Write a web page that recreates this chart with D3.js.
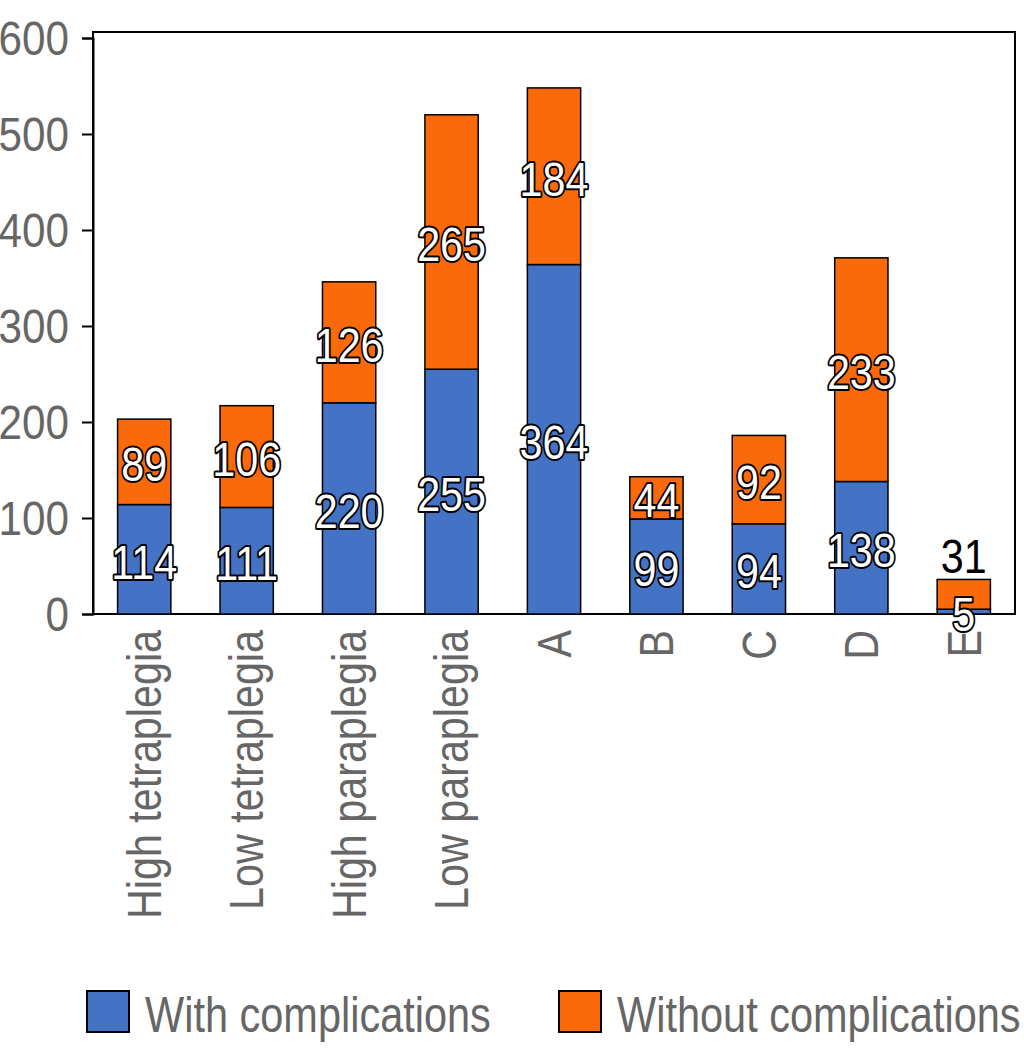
<!DOCTYPE html>
<html>
<head>
<meta charset="utf-8">
<script src="https://cdn.jsdelivr.net/npm/d3@7"></script>
<style>
  body { margin: 0; background: #fff; }
  svg text { font-family: "Liberation Sans", Arial, sans-serif; }
</style>
</head>
<body>
<div id="chart"></div>
<script>
// data
let categories = ['High tetraplegia', 'Low tetraplegia', 'High paraplegia', 'Low paraplegia', 'A', 'B', 'C', 'D', 'E']
let withComp = [114, 111, 220, 255, 364, 99, 94, 138, 5]
let withoutComp = [89, 106, 126, 265, 184, 44, 92, 233, 31]
let seriesNames = ['With complications', 'Without complications']
let yTicks = [0, 100, 200, 300, 400, 500, 600]

let colors = ['#4472c4', '#fa6a0b']

let width = 1024, height = 1049
let margin = { left: 93, right: 9, top: 32, bottom: 435 }
// the original uses a narrow helvetica, squeeze Liberation Sans to match
let narrowTick = 0.88, narrowVal = 0.86, narrowCat = 0.86, narrowLeg = 0.83

let svg = d3.select('#chart')
  .append('svg')
  .attr('width', width)
  .attr('height', height)

let x = d3.scaleBand()
  .domain(categories)
  .range([margin.left, width - margin.right])
  .paddingInner(0.48)
  .paddingOuter(0.24)

let y = d3.scaleLinear()
  .domain([0, 600])
  .range([height - margin.bottom, margin.top + 6])

let rows = categories.map((c, i) => ({ cat: c, w: withComp[i], wo: withoutComp[i] }))
let stacked = d3.stack().keys(['w', 'wo'])(rows)

// frame
svg.append('rect')
  .attr('x', margin.left)
  .attr('y', margin.top)
  .attr('width', width - margin.right - margin.left)
  .attr('height', y(0) - margin.top)
  .attr('fill', 'none')
  .attr('stroke', '#000')
  .attr('stroke-width', 2)

// y axis (lines from d3, labels drawn below so they can be squeezed)
let yAxis = svg.append('g')
  .attr('transform', `translate(${margin.left},0)`)
  .call(d3.axisLeft(y).tickValues(yTicks).tickSize(11).tickFormat(''))
yAxis.select('.domain').attr('stroke', '#000').attr('stroke-width', 2)
yAxis.selectAll('.tick line').attr('stroke', '#000').attr('stroke-width', 2)

svg.append('g')
  .selectAll('text')
  .data(yTicks)
  .join('text')
  .attr('transform', d => `translate(${margin.left - 24},${y(d)}) scale(${narrowTick},1)`)
  .attr('dy', '0.36em')
  .attr('text-anchor', 'end')
  .attr('fill', '#666')
  .style('font-size', '48px')
  .text(d => d)

// bars
let groups = svg.append('g')
  .selectAll('g')
  .data(stacked)
  .join('g')
  .attr('fill', (d, i) => colors[i])

groups.selectAll('rect')
  .data(d => d)
  .join('rect')
  .attr('x', d => x(d.data.cat))
  .attr('width', x.bandwidth())
  .attr('y', d => y(d[1]))
  .attr('height', d => y(d[0]) - y(d[1]))
  .attr('stroke', '#000')
  .attr('stroke-width', 1.5)

// value labels
let labels = []
stacked.forEach((s, si) => {
  s.forEach(d => {
    let segH = y(d[0]) - y(d[1])
    let v = d[1] - d[0]
    if (segH < 40 && si == 1) {
      // too small: put it above the bar
      labels.push({ cat: d.data.cat, v: v, yy: y(d[1]) - 24, plain: true })
    } else {
      labels.push({ cat: d.data.cat, v: v, yy: (y(d[0]) + y(d[1])) / 2 + 2, plain: false })
    }
  })
})

svg.append('g')
  .selectAll('text')
  .data(labels)
  .join('text')
  .attr('transform', d => `translate(${x(d.cat) + x.bandwidth() / 2},${d.yy}) scale(${narrowVal},1)`)
  .attr('dy', '0.36em')
  .attr('text-anchor', 'middle')
  .style('font-size', '48px')
  .attr('fill', d => d.plain ? '#000' : '#fff')
  .attr('stroke', d => d.plain ? 'none' : '#000')
  .attr('stroke-width', 4)
  .attr('paint-order', 'stroke')
  .attr('stroke-linejoin', 'round')
  .text(d => d.v)

// category labels
svg.append('g')
  .selectAll('text')
  .data(categories)
  .join('text')
  .attr('transform', d => `translate(${x(d) + x.bandwidth() / 2},${y(0) + 16}) rotate(-90) scale(${narrowCat},1)`)
  .attr('dy', '0.35em')
  .attr('text-anchor', 'end')
  .attr('fill', '#666')
  .style('font-size', '48px')
  .text(d => d)

// legend
let legendX = [87, 559]
let legend = svg.append('g')
  .selectAll('g')
  .data(seriesNames)
  .join('g')
  .attr('transform', (d, i) => `translate(${legendX[i]},991)`)

legend.append('rect')
  .attr('width', 42)
  .attr('height', 41)
  .attr('fill', (d, i) => colors[i])
  .attr('stroke', '#000')
  .attr('stroke-width', 2)

legend.append('text')
  .attr('transform', `translate(58,41) scale(${narrowLeg},1)`)
  .attr('fill', '#666')
  .style('font-size', '50px')
  .text(d => d)
</script>
</body>
</html>
